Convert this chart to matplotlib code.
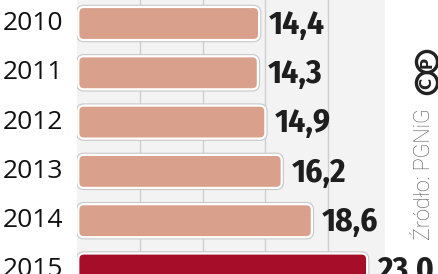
import matplotlib
matplotlib.use('Agg')
import matplotlib.pyplot as plt
from matplotlib.patches import FancyBboxPatch

years = ['2010', '2011', '2012', '2013', '2014', '2015']
values = [14.4, 14.3, 14.9, 16.2, 18.6, 23.0]
labels = ['14,4', '14,3', '14,9', '16,2', '18,6', '23,0']
light = '#D9A08B'
dark = '#A50D28'
colors = [light, light, light, light, light, dark]

W, H = 439, 274
fig = plt.figure(figsize=(W / 100, H / 100), dpi=100)
fig.patch.set_facecolor('white')

# axes placed in pixel units: zero at x=77, gray panel ends at x=385
left, right = 77, 385
ax = fig.add_axes([left / W, 0, (right - left) / W, 1])
ax.set_facecolor('#F3F3F3')
xmax = (right - left) / 12.56
ax.set_xlim(0, xmax)
step = 49.3
ax.set_ylim((H - 23.5) / step, -23.5 / step)
for s in ax.spines.values():
    s.set_visible(False)
ax.set_xticks([5, 10, 15, 20])
ax.set_yticks([])
ax.tick_params(axis='x', length=0, labelbottom=False)
ax.grid(axis='x', color='#CFCFCF', linewidth=1)
ax.set_axisbelow(True)

bh = 0.67
xu = 1 / 12.56   # data units per pixel in x
yu = 1 / step    # data units per pixel in y
aspect = yu / xu
for i, (v, c) in enumerate(zip(values, colors)):
    y0 = i - bh / 2
    shadow = FancyBboxPatch((0.1, y0), v, bh,
                            boxstyle='round,pad=0,rounding_size=0.45',
                            mutation_aspect=aspect, fc='none', ec='#C8C8C8',
                            lw=3.2, zorder=2)
    ax.add_patch(shadow)
    bar = FancyBboxPatch((0.1, y0), v, bh,
                         boxstyle='round,pad=0,rounding_size=0.45',
                         mutation_aspect=aspect, fc=c, ec='white',
                         lw=1.6, zorder=3)
    ax.add_patch(bar)
    ax.text(v + 11 * xu, i + 0.03, labels[i], ha='left', va='center',
            fontsize=24, fontweight='bold', color='#1E1E1E',
            family=['Fira Sans Condensed', 'DejaVu Sans'], zorder=4,
            clip_on=False)

for i, yr in enumerate(years):
    fig.text(33 / W, 1 - (23.5 + step * i) / H, yr, ha='center', va='center',
             fontsize=19, color='#111111', family='Open Sans')

fig.text(425 / W, 1 - 174 / H, 'Źródło: PGNiG', rotation=90, ha='center',
         va='center', fontsize=15.5, color='#555555', family='Roboto',
         fontweight='light')
fig.text(427 / W, 1 - 83 / H, 'C', rotation=90, ha='center', va='center',
         fontsize=11, fontweight='bold', color='#222222',
         bbox=dict(boxstyle='circle,pad=0.2', fc='white', ec='#222222', lw=2.4))
fig.text(427 / W, 1 - 62 / H, 'P', rotation=90, ha='center', va='center',
         fontsize=11, fontweight='bold', color='#222222',
         bbox=dict(boxstyle='circle,pad=0.2', fc='white', ec='#222222', lw=2.4))

fig.savefig('out.png', dpi=100)
